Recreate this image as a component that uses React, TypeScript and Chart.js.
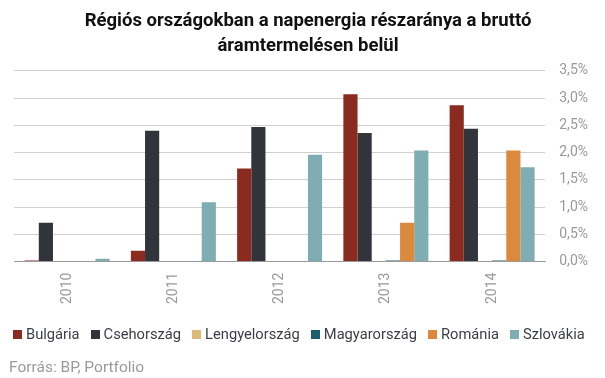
import React, { useEffect, useRef } from "react";
import { Chart, registerables } from "chart.js";

Chart.register(...registerables);

const years = ["2010", "2011", "2012", "2013", "2014"];
const seriesNames = ["Bulgária", "Csehország", "Lengyelország", "Magyarország", "Románia", "Szlovákia"];
const seriesColors = ["#8B2B1F", "#31353B", "#DDBA78", "#1B5F6C", "#DB893C", "#7FADB4"];
const bulgaria = [0.02, 0.2, 1.71, 3.07, 2.87];
const csehorszag = [0.71, 2.4, 2.47, 2.36, 2.44];
const lengyelorszag = [0, 0, 0, 0, 0];
const magyarorszag = [0, 0, 0, 0.02, 0.02];
const romania = [0, 0, 0, 0.71, 2.04];
const szlovakia = [0.05, 1.09, 1.96, 2.04, 1.73];
const seriesValues = [bulgaria, csehorszag, lengyelorszag, magyarorszag, romania, szlovakia];
const yTicks = [0, 0.5, 1, 1.5, 2, 2.5, 3, 3.5];

const titleLines = ["Régiós országokban a napenergia részaránya a bruttó", "áramtermelésen belül"];
const sourceText = "Forrás: BP, Portfolio";

export default function App() {
  const ref = useRef<HTMLCanvasElement>(null);
  useEffect(() => {
    document.body.style.margin = "0";
    const ctx = ref.current!;
    const chart = new Chart(ctx, {
      type: "bar",
      data: {
        labels: years,
        datasets: seriesNames.map((name, i) => ({
          label: name,
          data: seriesValues[i],
          backgroundColor: seriesColors[i],
        })),
      },
      options: {
        animation: false,
        responsive: false,
        maintainAspectRatio: false,
        layout: { padding: { left: 14, right: 3, top: 5, bottom: 63 } },
        datasets: { bar: { barPercentage: 1, categoryPercentage: 0.8 } },
        plugins: {
          title: {
            display: true,
            text: titleLines,
            color: "#111",
            font: { family: "Roboto", size: 18.5, weight: "bold", lineHeight: 1.35 },
            padding: { top: 4, bottom: 12 },
          },
          legend: { display: false },
          tooltip: { enabled: false },
        },
        scales: {
          x: {
            grid: { display: false, drawTicks: false },
            border: { display: true, color: "#999" },
            ticks: {
              minRotation: 90,
              maxRotation: 90,
              color: "#999",
              font: { family: "Roboto", size: 14 },
              padding: 11,
            },
          },
          y: {
            position: "right",
            min: 0,
            max: 3.5,
            afterBuildTicks: (axis: any) => {
              axis.ticks = yTicks.map((v) => ({ value: v }));
            },
            grid: { color: "#d0d0d0", drawTicks: false, lineWidth: 1 },
            border: { display: false },
            ticks: {
              color: "#999",
              font: { family: "Roboto", size: 14 },
              padding: 14,
              callback: (v: any) => Number(v).toFixed(1).replace(".", ",") + "%",
            },
          },
        },
      },
    });
    return () => chart.destroy();
  }, []);
  return (
    <div style={{ width: 605, height: 378, position: "relative", fontFamily: "Roboto" }}>
      <canvas ref={ref} width={605} height={378} style={{ display: "block" }} />
      <div
        style={{
          position: "absolute",
          left: 13,
          top: 325,
          display: "flex",
          alignItems: "baseline",
          gap: 11,
          fontSize: 14.7,
          color: "#3a3e48",
          whiteSpace: "nowrap",
          lineHeight: "18px",
        }}
      >
        {seriesNames.map((name, i) => (
          <span key={name} style={{ display: "inline-flex", alignItems: "baseline" }}>
            <span
              style={{
                display: "inline-block",
                width: 9,
                height: 9,
                background: seriesColors[i],
                marginRight: 4,
              }}
            />
            {name}
          </span>
        ))}
      </div>
      <div
        style={{
          position: "absolute",
          left: 9,
          top: 358,
          fontSize: 15.5,
          color: "#9a9a9a",
          lineHeight: "18px",
          whiteSpace: "nowrap",
        }}
      >
        {sourceText}
      </div>
    </div>
  );
}
